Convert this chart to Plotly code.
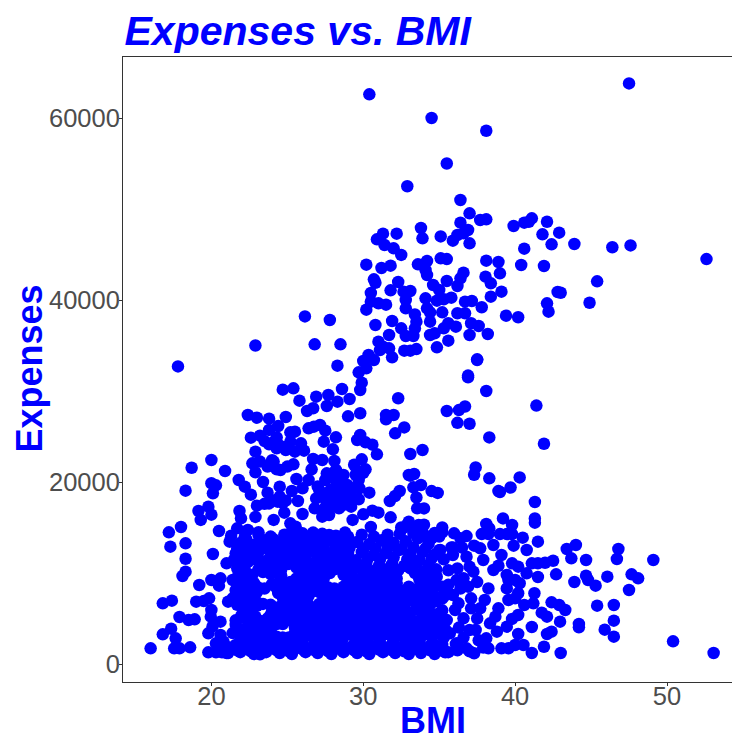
import plotly.graph_objects as go

# High-cost cluster and outliers
bmi_upper = [30.4,47.5,34.5,38.1,35.5,32.9,36.4,37.0,37.7,38.1,39.9,40.6,40.9,41.1,42.1,41.8,42.9,42.4,43.9,40.6,40.4,41.9,45.4,42.8,42.1,42.2,44.9,40.2,39.4,39.1,38.4,39.0,38.9,38.1,38.05,38.4,36.6,36.2,35.5,36.4,35.1,35.5,35.1,33.8,33.9,32.2,31.3,30.9,31.4,32.0,32.5,30.2,31.2,31.8,33.6,34.2,34.1,34.2,36.4,36.9,36.6,36.2,35.9,37.0,30.7,30.8,32.3,31.8,30.5,30.5,30.2,31.0,31.5,33.1,32.65,32.8,32.8,34.6,35.0,34.1,34.85,35.3,35.8,34.2,34.4,35.2,36.7,37.15,37.8,36.2,36.7,33.4,33.5,31.9,30.8,32.5,33.4,32.8,33.3,31.7,34.4,34.4,34.7,35.3,35.6,36.1,37.1,37.6,38.2,37.0,35.6,34.85,33.5,33.1,32.7,31.0,31.3,31.7,31.9,31.1,30.35,30.0,30.7,30.2,29.7,37.5,36.9,26.16,27.8,26.8,28.5,28.3,17.8,22.9,47.6,46.4,52.6,43.0]
exp_upper = [62600,63800,60000,58600,55000,52500,50990,49520,48790,48860,48130,48500,48600,48970,48600,47220,47400,46120,46150,45640,43850,43740,42050,40880,39630,38720,39700,38100,38280,40920,40370,42930,44180,44320,42560,41830,43000,41540,42090,42380,44580,44500,46990,47910,46780,47290,47290,46670,46040,45680,44950,43880,43520,43770,43920,44290,43300,42750,48500,47690,47330,47140,46520,46230,42270,41900,41980,41060,40770,39820,38940,39630,39490,40990,40920,40000,39080,41650,41100,40180,39930,40070,40260,39080,38640,38640,39820,39890,39200,38540,38540,38420,37620,37690,37250,36890,36890,36040,36040,36150,37620,36150,36340,36890,37440,37070,37440,37140,36260,36150,35530,34800,34610,34430,34430,35420,34870,34690,33700,34500,33960,33300,33410,32490,32050,33480,31690,38200,37800,35130,35130,32780,32700,35000,46000,45800,44500,40800]

# Middle band
bmi_mid = [24.7,25.4,25.8,26.9,27.7,28.6,29.1,28.3,27.6,26.7,26.3,29.8,29.9,32.3,29.0,29.8,31.5,32.0,31.5,32.7,32.1,22.4,23.0,23.8,24.9,24.4,23.8,23.2,22.6,24.3,25.2,25.5,25.2,23.8,24.3,24.9,25.9,26.1,25.5,26.4,26.75,27.15,27.5,27.4,28.2,28.0,22.9,22.7,23.2,23.7,24.1,24.55,25.0,25.4,22.9,26.7,27.3,28.1,26.6,29.8,29.6,30.15,30.6,30.9,29.9,30.15,29.6,28.2,28.7,27.6,27.5,28.05,28.6,29.7,28.95,29.75,27.85,27.1,27.3,28.3,29.3,29.7,30.4,32.4,32.1,31.75,33.1,33.9,33.0,33.35,33.3,33.8,33.55,25.6,26.4,23.4,21.8,22.2,22.6,24.5,23.7,25.3,26.0,25.7,23.0,23.8,24.35,24.9,24.8,26.0,22.9,24.1,26.8,27.4,27.75,27.3,28.4,29.2,30.0,30.6,31.0,29.3,31.8,30.5,33.0,33.65,20.0,18.7,20.9,20.0,20.3,20.1,18.3,19.15,19.8,20.0,19.3,21.85,21.95,18.0,17.2,20.5,21.7,22.4,23.1,25.2,25.55,25.1,26.0,26.7,27.75,28.8,
 28.0,28.3,28.6,28.1,28.6,29.0,27.7,28.9,28.0,27.6,28.6,29.4,29.5,29.4,30.0,23.5,24.1,24.5,25.0,24.0,23.8,24.3,27.0,26.9,27.5,24.5,24.0,24.7,23.5]
exp_mid = [30150,30290,28940,29380,29560,30220,29120,28830,28350,28100,27800,30110,30920,29200,27220,27550,27360,27360,26890,26000,25350,27360,27070,26960,27140,26150,25720,25090,24870,24910,25460,25530,24430,24140,23700,23520,24250,23440,23330,25900,26080,26260,25640,24430,24910,23590,23330,22050,22240,21690,22240,21320,21690,21940,21060,22530,22420,22310,21390,25160,24620,24360,24100,23040,22490,21390,21250,21320,20770,20950,20220,20400,19850,20220,19670,19300,19120,19120,18390,18390,18200,18100,18830,19010,18460,17910,23080,23520,20770,20880,19410,19670,17110,20330,20220,20000,20220,19490,18610,19490,18830,19010,19300,17910,17400,17650,17840,17950,16630,16480,16160,15830,17110,16920,16370,16190,17110,17290,16450,16850,16630,15830,16120,15050,15640,15280,22420,21570,21210,19860,19630,18750,19050,16810,17290,16410,15830,16810,16010,15050,14470,14620,14910,14730,14470,15460,15090,14290,14360,14440,14180,14440,
 20500,19700,20600,19300,18900,19100,18500,17800,17500,17800,17400,19300,20800,21900,21000,24500,24400,24000,23900,22400,21800,21400,19500,18200,17200,18400,18000,17700,17600]

# Right of the middle band
bmi_right = [36.9,37.5,38.1,35.5,36.3,36.7,36.2,37.0,38.3,41.4,41.9,37.4,37.3,38.3,39.0,39.7,40.3,41.3,41.3,39.2,38.9,38.3,34.5,34.9,33.5,34.0,32.5,33.4,32.9,35.2,34.7,33.1]
exp_right = [31500,33400,30000,27800,27900,28300,26500,26400,24900,28400,24200,21600,20800,20400,18900,19400,20500,17800,16000,16000,19000,14900,19000,18800,18300,17100,15000,14400,15300,15000,14400,20700]

# Lower-left edge
bmi_left = [17.3,18.3,18.3,18.3,18.1,20.1,21.2,21.6,21.0,21.7,19.2,20.0,20.5,20.6,21.4,16.8,17.4,19.0,19.85,19.5,21.1,20.0,19.96,17.9,18.5,18.9,20.6,21.4,17.35,16.8,17.65,17.55,17.9,16.0,18.6,19.8,20.3,20.7,20.07,19.8,20.6,20.8,20.3,21.7,22.6,23.2,23.8]
exp_left = [12890,13260,11570,10150,9670,12090,13440,12160,11060,10510,8680,9230,8610,9410,9230,6670,6960,6850,7220,6920,6850,5930,5200,5160,4830,4910,4650,7220,3880,3260,2820,1720,1720,1720,1830,1280,1280,1280,4100,3370,3190,2450,2270,1720,1720,1060,1720]

# Lower-right edge
bmi_lowright = [53.07,50.4,49.1,46.7,46.8,47.67,48.1,47.5,46.07,45.3,44.8,44.67,43.9,42.7,41.5,44.67,43.7,43.4,44.0,42.5,41.97,41.5,41.1,40.76,41.5,41.3,40.5,39.9,39.8,38.1,37.8,38.24,39.0,39.45,39.8,39.1,45.4,46.5,46.5,45.9,46.5,44.2,44.2,42.96,43.3,42.9,42.4,41.75,42.1,41.1,42.4,42.1,41.9,43.0,41.1,40.55,40.2,40.0,39.56,39.1,38.24,37.3,38.1,38.8,39.45,39.8,40.2,40.6,41.2,41.27,38.9,38.7,38.35,37.4,37.0,36.6,36.05,37.1,37.7,38.0,38.24,37.1,39.45,40.2,39.56,40.0,40.3,40.0,39.45,40.76,39.8,40.2,39.56,38.57,37.9,37.25,36.6,36.16,35.9,36.27,35.3,34.84,34.5,35.2,35.98,36.8,36.4,33.75,35.07,35.9,36.8,37.7,38.57,35.5,35.7,35.4,36.8,36.16]
exp_lowright = [1210,2490,11430,11540,12640,9850,9410,8130,9600,8610,9230,9710,9010,9850,9560,11430,11610,12640,13080,11350,11130,11060,11060,12530,13440,15530,13880,13000,15270,15380,14280,14280,14280,14280,14280,11980,6410,6480,4760,3770,3000,4400,4030,4650,5930,6480,6780,5640,5200,4070,3550,3300,1900,1210,1210,2090,3300,2090,1720,1720,1720,1170,2820,3550,4100,4950,5380,6480,6670,7770,6120,5200,4470,3740,3740,5020,5930,6120,6120,7030,8310,7220,8310,7770,7030,7220,8870,9230,9780,9960,11060,10700,9230,10330,11430,10150,9410,9230,7580,6670,7400,9600,13810,14470,14360,14060,13810,15160,12530,11980,11790,12710,13080,4830,3370,1280,1720,2270]

# Dense low-cost mass, read row by row
bmi_dense = [
 21.9,22.8,23.7,24.5,25.3,26.2,27.1,27.9,28.7,29.6,30.4,31.2,32.0,32.8,33.6,34.3,
 22.3,23.1,24.0,24.8,25.7,26.5,27.4,28.2,29.0,29.9,30.7,31.5,32.3,33.1,33.9,34.7,
 22.0,23.4,24.2,25.9,26.8,27.7,28.6,29.4,30.2,31.0,31.9,32.7,33.5,34.3,
 21.8,22.7,24.4,26.1,27.0,27.8,29.2,30.0,30.8,31.7,33.4,34.2,
 22.2,23.0,24.6,25.4,26.3,27.2,28.1,28.9,29.8,30.6,31.4,32.2,33.0,33.8,34.6,
 22.4,24.7,25.5,26.4,27.4,28.3,29.1,30.0,30.8,31.6,32.5,33.3,34.1,34.9,
 21.7,22.6,23.4,24.2,25.1,25.9,27.6,28.5,29.3,30.2,31.0,31.9,32.7,33.5,34.4,
 22.0,22.9,24.6,25.4,26.2,27.1,27.9,28.8,29.6,30.5,31.3,32.2,33.0,33.9,34.7,
 21.6,22.4,23.8,24.7,25.6,26.4,27.3,28.1,29.0,29.8,30.7,31.5,32.4,33.2,34.1,34.9,
 21.4,22.2,23.1,23.9,24.1,25.8,26.7,27.5,28.4,29.2,30.1,30.9,31.8,32.6,33.5,34.4,
 21.9,22.7,23.5,24.3,25.2,26.0,26.9,27.7,28.6,29.5,30.3,31.1,32.0,32.9,33.7,34.6,
 21.2,22.1,23.0,23.8,24.7,25.5,26.4,27.2,28.1,28.9,29.8,30.6,31.5,32.3,33.2,34.0,34.9,
 21.0,21.9,22.8,23.6,24.5,25.3,26.2,27.0,27.9,28.7,29.6,30.4,31.3,32.1,33.0,33.8,34.7,35.6,
 21.3,22.2,23.1,23.9,24.8,25.6,26.5,27.3,28.2,29.0,29.9,30.7,31.6,32.4,33.3,34.1,35.0,
 21.1,32.6,33.0,33.4,34.0,
]
exp_dense = [
 13300,13100,13500,13200,13400,13000,13300,13500,13100,13400,13200,13600,13300,13500,13800,13200,
 12100,12300,11900,12200,12000,12400,12100,11900,12200,12300,12000,12200,12500,12100,12300,12000,
 10900,10700,11000,10800,11100,10800,11000,10900,11100,10700,11000,10800,11100,10900,
 9900,9800,10000,9700,9900,10000,9800,10100,9800,9900,10000,9800,
 8700,8500,8800,8400,8700,8600,8300,8800,8600,8400,8700,8800,8500,8700,8500,
 7500,7300,7600,7500,7300,7600,7400,7600,7300,7500,7600,7400,7600,7300,
 6500,6300,6600,6200,6500,6300,6100,6400,6200,6500,6300,6600,6400,6200,6500,
 5400,5200,5500,5300,5200,5500,5300,5400,5200,5500,5300,5400,5200,5500,5300,
 4300,4200,4500,4400,4300,4100,4500,4300,4200,4400,4500,4300,4200,4400,4300,4100,
 3400,3300,3500,3100,2800,3400,3200,3500,3300,3400,3200,3500,3300,3400,3200,3300,
 2500,2300,2600,2400,2200,2600,2500,2300,2600,2400,2500,2300,2600,2400,2500,2300,
 1800,1700,1900,1700,1800,1900,1700,1800,1900,1700,1800,1900,1700,1800,1900,1700,1800,
 1200,1300,1100,1300,1200,1100,1300,1200,1100,1300,1200,1100,1300,1200,1100,1200,1100,1300,
 14100,14000,14200,14000,14200,14100,14000,14300,14100,14000,14200,14000,14200,14300,14400,14100,14000,
 1200,14900,15400,14800,15300,
]

# Second pass through the same mass, between the rows above
bmi_fill = [
 21.7,22.5,23.3,24.1,24.9,25.7,26.6,27.4,28.3,29.1,30.0,30.8,31.6,32.5,33.3,34.1,35.0,35.8,
 21.9,22.9,23.7,24.5,25.3,26.1,27.0,27.9,28.7,29.5,30.3,31.1,32.0,32.9,33.7,34.5,35.3,
 23.8,24.6,26.4,27.3,28.1,29.0,29.8,30.6,31.4,32.3,33.1,34.0,34.8,35.6,
 22.3,24.6,25.6,26.5,27.4,29.0,29.9,30.7,31.6,32.2,33.7,34.3,
 21.6,22.5,23.0,24.8,25.7,26.7,27.6,28.5,29.4,30.3,31.1,32.0,32.8,33.7,34.5,35.4,
 22.1,23.0,24.9,25.7,27.7,28.8,29.7,30.5,31.4,32.2,33.1,33.9,34.8,
 22.2,24.0,24.9,25.8,26.7,27.5,28.4,29.2,30.1,30.9,31.8,32.6,33.5,34.3,35.2,
 21.6,22.5,23.3,24.3,25.1,26.0,26.8,27.7,28.5,29.4,30.2,31.1,31.9,32.8,33.6,34.5,35.3,
 21.9,22.8,23.6,26.0,26.9,27.7,28.6,29.4,30.3,31.1,32.0,32.8,33.7,34.5,35.4,
 22.6,23.4,24.3,25.1,26.0,26.8,27.7,28.5,29.4,30.2,31.1,31.9,32.8,33.6,34.5,35.3,
 21.6,22.5,23.3,24.2,25.0,25.9,26.7,27.6,28.4,29.3,30.1,31.0,31.8,32.7,33.5,34.4,35.2,36.1,
 20.9,21.7,22.6,23.4,24.3,25.1,26.0,26.8,27.7,28.5,29.4,30.2,31.0,31.9,32.7,33.6,34.4,35.3,36.2,37.0,
 36.5,37.3,37.0,36.2,36.9,37.5,36.4,35.6,37.5,36.3,37.6,37.9,36.6,35.9,38.9,
]
exp_fill = [
 12700,12600,12800,12500,12700,12800,12600,12700,12500,12800,12600,12700,12900,12600,12800,12700,12500,12800,
 11500,11600,11400,11700,11500,11400,11600,11500,11700,11400,11600,11500,11700,11500,11400,11600,11500,
 10300,10400,10300,10200,10400,10300,10500,10200,10400,10300,10500,10200,10400,10300,
 9300,9200,9400,9200,9400,8200,9100,9300,9200,9400,9300,9100,
 8100,8000,7900,8200,8100,8000,8200,8000,8100,7900,8200,8000,8100,7900,8200,8000,
 6900,6800,7000,6800,7000,6900,6700,7000,6800,6900,7000,6800,6900,
 5900,5800,6000,5800,5900,6000,5800,5900,5700,6000,5800,5900,6000,5800,5900,
 4800,4900,4700,4900,4800,4700,4900,4800,4700,4900,4800,4700,4900,4800,4700,4900,4800,
 3800,3900,3700,3700,3900,3800,3700,3900,3800,3700,3900,3800,3700,3900,3800,
 2900,2800,3000,2900,2800,3000,2900,2800,3000,2900,2800,3000,2900,2800,3000,2900,
 2100,2000,2200,2100,2000,2200,2000,2100,2200,2000,2100,2200,2000,2100,2200,2000,2100,2200,
 1400,1500,1400,1600,1500,1400,1600,1500,1400,1600,1500,1400,1600,1500,1400,1600,1500,1400,1500,1400,
 12800,13000,10700,10500,8500,9000,8300,8700,5000,4000,2600,1800,2900,12800,10800,
]

# Third pass, for the gaps the first two leave
bmi_gaps = [
 22.5,24.6,25.2,25.9,26.8,27.3,27.5,29.4,30.3,31.2,32.0,33.7,34.6,35.2,
 23.5,24.2,25.0,25.9,26.8,27.7,28.5,28.7,29.3,30.2,31.0,31.8,32.6,33.4,34.1,34.9,
 22.7,24.9,25.9,27.6,28.4,29.3,30.1,31.0,31.8,32.7,33.5,34.4,35.2,
 22.5,23.9,24.6,25.5,26.3,27.2,28.0,28.9,29.7,30.6,31.4,32.3,33.1,34.0,34.9,
 23.9,24.3,22.9,23.3,23.8,24.7,25.5,25.5,26.4,27.2,28.0,28.9,29.8,30.6,31.5,32.4,33.1,34.0,34.9,
 21.5,22.4,22.7,23.9,24.8,25.1,23.4,23.9,22.2,22.5,
]
exp_gaps = [
 9500,9700,9000,9300,9400,9000,9900,9400,9500,9400,9400,9500,9300,8500,
 8300,8500,8400,8200,8300,8400,8100,8500,8300,8700,8600,8300,8000,8200,8100,8600,
 7300,7200,6900,7000,7300,7300,7100,7200,7000,7200,7100,7000,7200,
 5700,5400,5700,5600,5700,5600,5600,5600,5600,5600,5600,5600,5600,5600,5500,
 4700,4400,4100,3900,3300,2900,2900,3400,3400,3500,3300,3200,3300,3300,3300,3200,3400,3200,3400,
 11500,12000,11500,11100,10900,11000,10100,9900,10300,9300,
]

# Fourth pass, the left half of the mass
bmi_left_mass = [
 22.3,23.2,24.1,24.9,25.8,26.7,27.5,28.3,
 22.0,22.9,23.8,24.6,25.4,26.3,27.2,28.0,28.9,
 22.4,23.3,24.4,25.5,26.3,27.2,28.2,29.2,
 21.9,23.1,25.6,26.6,27.5,28.4,29.2,
 22.0,26.5,28.7,
 21.9,22.8,24.0,24.5,25.5,26.2,27.0,29.0,
 22.0,22.8,24.4,25.2,26.1,27.1,27.9,28.8,
 22.3,23.0,23.9,24.7,25.5,26.4,27.1,28.0,
 22.0,23.7,24.6,25.5,26.3,27.2,28.0,
 24.0,25.5,26.4,27.3,28.2,
 21.9,22.7,23.2,25.9,26.5,27.4,28.2,
]
exp_left_mass = [
 13700,13800,13700,13600,13800,13700,13800,13700,
 12400,12300,12500,12400,12300,12500,12400,12300,12500,
 11200,11300,11200,11100,11300,11200,11300,11200,
 10500,10400,10600,10500,10600,10500,10400,
 9700,9600,9800,
 8900,8900,8800,9000,8900,8800,8900,8800,
 7800,7900,7800,7900,7800,7900,7800,7900,
 6500,6400,6500,6600,6400,6500,6600,6400,
 5100,5000,5100,5000,5100,5000,5100,
 4100,4000,4100,4000,4100,
 3100,3000,3100,3000,3100,3000,3100,
]

bmi = bmi_upper + bmi_mid + bmi_right + bmi_left + bmi_lowright + bmi_dense + bmi_fill + bmi_gaps + bmi_left_mass
expenses = exp_upper + exp_mid + exp_right + exp_left + exp_lowright + exp_dense + exp_fill + exp_gaps + exp_left_mass

x_ticks = [20, 30, 40, 50]
y_ticks = [0, 20000, 40000, 60000]

FONT = "Liberation Sans"

fig = go.Figure(go.Scatter(
    x=bmi, y=expenses, mode="markers",
    marker=dict(color="#0000FF", size=12.5, line=dict(width=0)),
))

axis_common = dict(
    showgrid=False, zeroline=False, showline=True, mirror=True,
    linecolor="#333333", linewidth=1, automargin=False,
    ticks="outside", ticklen=3, tickwidth=1, tickcolor="#333333",
    tickfont=dict(family=FONT, size=25.5, color="#4D4D4D"),
)

PLOT_W = 732 - 122.5
PLOT_H = 736 - 57 - 54

fig.update_layout(
    width=732, height=736,
    margin=dict(l=122.5, r=0, t=57, b=54),
    paper_bgcolor="white", plot_bgcolor="white",
    showlegend=False,
    title=dict(
        text="<b><i>Expenses vs. BMI</i></b>",
        font=dict(family=FONT, size=41, color="#0000FF"),
        x=124.5 / 732, xanchor="left", xref="container",
        y=1 - 45 / 736, yanchor="bottom", yref="container",
        pad=dict(l=0, r=0, t=0, b=0),
    ),
    xaxis=dict(
        range=[14.18, 54.28], tickvals=x_ticks,
        ticktext=[str(v) for v in x_ticks],
        ticklabelstandoff=-12,
        **axis_common,
    ),
    yaxis=dict(
        range=[-1978, 66703], tickvals=y_ticks,
        ticktext=[str(v) for v in y_ticks],
        ticklabelstandoff=-6,
        **axis_common,
    ),
    annotations=[
        dict(text="<b>BMI</b>", xref="paper", yref="paper",
             x=(433 - 122.5) / PLOT_W, y=(682 - 720) / PLOT_H,
             xanchor="center", yanchor="middle", showarrow=False,
             font=dict(family=FONT, size=36, color="#0000FF")),
        dict(text="<b>Expenses</b>", xref="paper", yref="paper",
             x=(28 - 122.5) / PLOT_W, y=(682 - 369) / PLOT_H,
             xanchor="center", yanchor="middle", textangle=-90, showarrow=False,
             font=dict(family=FONT, size=36, color="#0000FF")),
    ],
)

fig.write_html(
    "out.html",
    config={"displayModeBar": False},
    post_script="document.body.style.margin='0';document.documentElement.style.overflow='hidden';",
)
